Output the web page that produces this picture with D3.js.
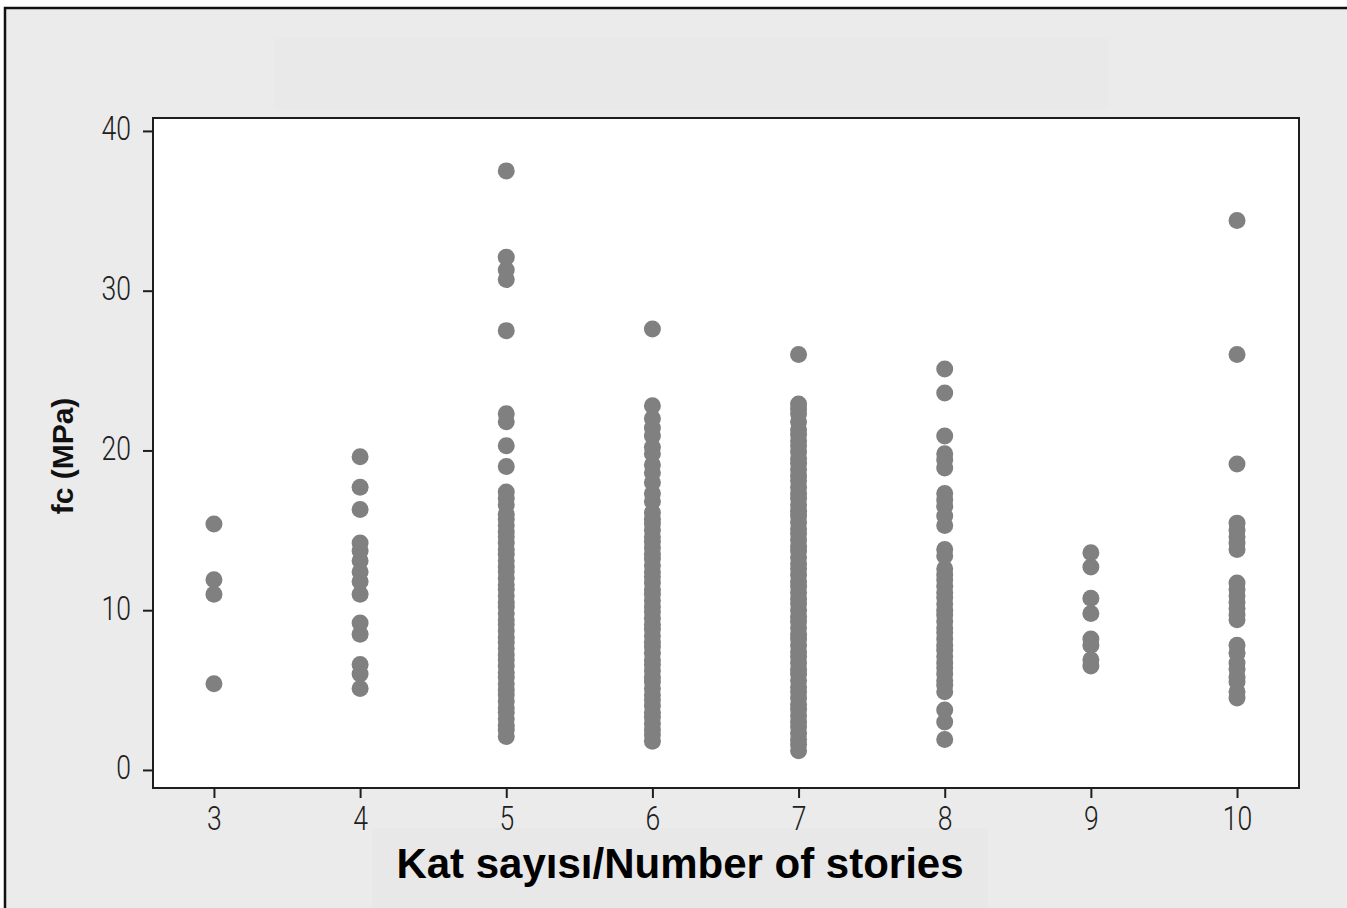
<!DOCTYPE html>
<html>
<head>
<meta charset="utf-8">
<script src="https://cdn.jsdelivr.net/npm/d3@7"></script>
<style>
  html, body { margin: 0; padding: 0; background: #ffffff; }
  svg { display: block; }
</style>
</head>
<body>
<svg id="chart" width="1347" height="908"></svg>
<script>
// Number of stories on the x axis
const stories = [3, 4, 5, 6, 7, 8, 9, 10];
const yTicks = [0, 10, 20, 30, 40];

// Concrete compressive strength fc (MPa) measured for each building height
const fc3 = [15.4, 11.9, 11.0, 5.4];
const fc4 = [19.6, 17.7, 16.3, 14.2, 13.7, 13.1, 12.4, 11.8, 11.0, 9.2, 8.5, 6.6, 6.0, 5.1];
const fc5 = [37.5, 32.1, 31.3, 30.7, 27.5, 22.3, 21.8, 20.3, 19.0, 17.4, 17.0, 16.6,
  16.0, 15.7, 15.3, 14.9, 14.6, 14.2, 13.8, 13.5, 13.1, 12.7, 12.4, 12.0, 11.6, 11.3,
  10.9, 10.5, 10.2, 9.8, 9.4, 9.1, 8.7, 8.3, 8.0, 7.6, 7.2, 6.9, 6.5, 6.1, 5.8, 5.4,
  5.0, 4.7, 4.3, 3.9, 3.6, 3.2, 2.8, 2.5, 2.1];
const fc6 = [27.6, 22.8, 22.0, 21.4, 20.9, 20.2, 19.8, 19.1, 18.6, 18.0, 17.3, 16.8,
  16.1, 15.7, 15.4, 15.0, 14.6, 14.3, 13.9, 13.5, 13.2, 12.8, 12.4, 12.1, 11.7, 11.3,
  11.0, 10.6, 10.2, 9.9, 9.5, 9.1, 8.8, 8.4, 8.0, 7.7, 7.3, 6.9, 6.6, 6.2, 5.8, 5.5,
  5.1, 4.7, 4.4, 4.0, 3.6, 3.3, 2.9, 2.5, 2.2, 1.8];
const fc7 = [26.0, 22.9, 22.6, 22.3, 21.8, 21.3, 21.0, 20.6, 20.3, 19.9, 19.5, 19.2,
  18.8, 18.4, 18.1, 17.7, 17.3, 17.0, 16.6, 16.2, 15.9, 15.5, 15.1, 14.8, 14.4, 14.0,
  13.7, 13.3, 12.9, 12.6, 12.2, 11.8, 11.5, 11.1, 10.7, 10.4, 10.0, 9.6, 9.3, 8.9,
  8.5, 8.2, 7.8, 7.4, 7.1, 6.7, 6.3, 6.0, 5.6, 5.2, 4.9, 4.5, 4.1, 3.8, 3.4, 3.0,
  2.7, 2.3, 1.9, 1.6, 1.2];
const fc8 = [25.1, 23.6, 20.9, 19.8, 19.4, 18.9, 17.3, 16.9, 16.5, 15.9, 15.3, 13.8,
  13.4, 12.6, 12.2, 11.9, 11.5, 11.1, 10.8, 10.4, 10.0, 9.7, 9.3, 8.9, 8.6, 8.2, 7.8,
  7.5, 7.1, 6.7, 6.4, 6.0, 5.6, 5.3, 4.9, 3.75, 3.0, 1.9];
const fc9 = [13.6, 12.7, 10.75, 9.8, 8.2, 7.8, 6.9, 6.5];
const fc10 = [34.4, 26.0, 19.15, 15.45, 15.0, 14.6, 14.2, 13.8, 11.7, 11.3, 10.9, 10.5,
  10.1, 9.7, 9.4, 7.8, 7.3, 6.7, 6.3, 5.8, 5.5, 4.9, 4.5];

const seriesByStory = [fc3, fc4, fc5, fc6, fc7, fc8, fc9, fc10];

const points = [];
stories.forEach((s, i) => seriesByStory[i].forEach(v => points.push({ s, v })));

const svg = d3.select("#chart");

// Panel background and outer frame
svg.append("rect")
  .attr("x", 5).attr("y", 8)
  .attr("width", 1400).attr("height", 1000)
  .attr("fill", "#ebebeb")
  .attr("stroke", "#111").attr("stroke-width", 2.5);

// Faint title and label boxes in the panel
svg.append("rect").attr("x", 275).attr("y", 38).attr("width", 833).attr("height", 72)
  .attr("fill", "#e9e9e9");
svg.append("rect").attr("x", 372).attr("y", 828).attr("width", 616).attr("height", 80)
  .attr("fill", "#e8e8e8");

const plot = { left: 153, top: 118, right: 1299, bottom: 788 };

const x = d3.scaleLinear().domain([2.583, 10.424]).range([plot.left, plot.right]);
const y = d3.scaleLinear().domain([-1.13, 40.81]).range([plot.bottom, plot.top]);

// Data region
svg.append("rect")
  .attr("x", plot.left).attr("y", plot.top)
  .attr("width", plot.right - plot.left).attr("height", plot.bottom - plot.top)
  .attr("fill", "#ffffff");

// Points
svg.append("g")
  .selectAll("circle")
  .data(points)
  .join("circle")
  .attr("cx", d => x(d.s))
  .attr("cy", d => y(d.v))
  .attr("r", 8.5)
  .attr("fill", "#808080");

// Frame around the data region
svg.append("rect")
  .attr("x", plot.left).attr("y", plot.top)
  .attr("width", plot.right - plot.left).attr("height", plot.bottom - plot.top)
  .attr("fill", "none")
  .attr("stroke", "#1e1e1e").attr("stroke-width", 2);

// Thin, narrow digits for tick labels
const tickFont = "Roboto, 'Liberation Sans', sans-serif";
const squeeze = 0.78;

// Axes
const yAxis = svg.append("g")
  .attr("transform", `translate(${plot.left},0)`)
  .call(d3.axisLeft(y).tickValues(yTicks).tickSize(10).tickSizeOuter(0).tickPadding(12));
const xAxis = svg.append("g")
  .attr("transform", `translate(0,${plot.bottom})`)
  .call(d3.axisBottom(x).tickValues(stories).tickSize(10).tickSizeOuter(0).tickPadding(8));

[yAxis, xAxis].forEach(g => {
  g.select(".domain").remove();
  g.selectAll(".tick line").attr("stroke", "#1e1e1e").attr("stroke-width", 2);
  g.selectAll(".tick text")
    .attr("fill", "#202020")
    .attr("transform", `scale(${squeeze},1)`)
    .style("font-family", tickFont)
    .style("font-weight", 300)
    .style("font-size", "34px");
});
yAxis.selectAll(".tick text").attr("x", -22 / squeeze).attr("dy", "0.26em");
xAxis.selectAll(".tick text").attr("dy", "0.7em");

// Axis titles
svg.append("text")
  .attr("transform", "translate(73,456) rotate(-90)")
  .attr("text-anchor", "middle")
  .style("font-family", "'Liberation Sans', Arial, sans-serif")
  .style("font-weight", "bold")
  .style("font-size", "30px")
  .attr("fill", "#111")
  .text("fc (MPa)");

svg.append("text")
  .attr("x", 680).attr("y", 878)
  .attr("text-anchor", "middle")
  .style("font-family", "'Liberation Sans', Arial, sans-serif")
  .style("font-weight", "bold")
  .style("font-size", "42px")
  .attr("fill", "#000")
  .text("Kat sayısı/Number of stories");
</script>
</body>
</html>
